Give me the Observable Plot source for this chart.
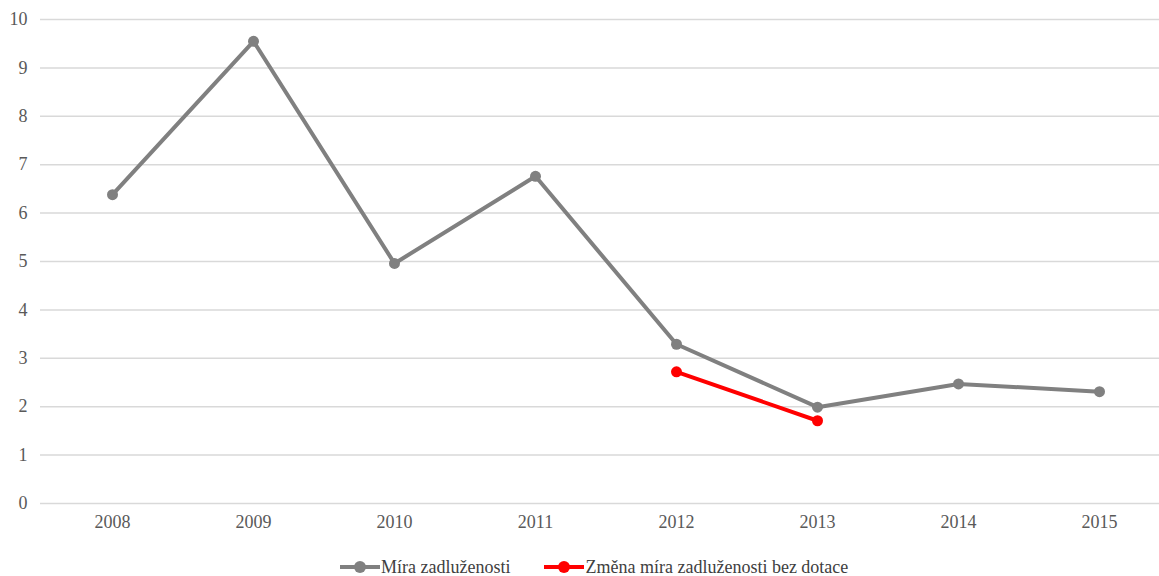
<!DOCTYPE html>
<html>
<head>
<meta charset="utf-8">
<script src="https://cdn.jsdelivr.net/npm/d3@7"></script>
<script src="https://cdn.jsdelivr.net/npm/@observablehq/plot@0.6"></script>
<style>
  html, body { margin: 0; padding: 0; background: #fff; overflow: hidden; }
  #chart svg { display: block; }
  .legend { display: flex; justify-content: flex-start; align-items: center; height: 36px; margin-top: 9px; font-family: "Liberation Serif", serif; font-size: 18px; color: #404040; padding-left: 340px; }
  .item { display: flex; align-items: center; margin-right: 34px; }
  .sym { position: relative; width: 40px; height: 12px; margin-right: 1px; }
  .sym .ln { position: absolute; left: 0; right: 0; top: 4px; height: 4px; }
  .sym .dt { position: absolute; left: 14px; top: 0; width: 12px; height: 12px; border-radius: 6px; }
</style>
</head>
<body>
<div id="chart"></div>
<div class="legend">
  <div class="item"><div class="sym"><div class="ln" style="background:#808080"></div><div class="dt" style="background:#808080"></div></div><span>Míra zadluženosti</span></div>
  <div class="item"><div class="sym"><div class="ln" style="background:#ff0000"></div><div class="dt" style="background:#ff0000"></div></div><span>Změna míra zadluženosti bez dotace</span></div>
</div>
<script>
const years = ["2008", "2009", "2010", "2011", "2012", "2013", "2014", "2015"];
const miraZadluzenosti = [6.38, 9.55, 4.96, 6.76, 3.29, 1.99, 2.47, 2.31];
const zmenaYears = ["2012", "2013"];
const zmenaValues = [2.72, 1.71];
const yTicks = [0, 1, 2, 3, 4, 5, 6, 7, 8, 9, 10];

const mira = years.map((y, i) => ({year: y, value: miraZadluzenosti[i]}));
const zmena = zmenaYears.map((y, i) => ({year: y, value: zmenaValues[i]}));

const chart = Plot.plot({
  width: 1159,
  height: 540,
  marginTop: 19,
  marginBottom: 37,
  marginLeft: 40,
  marginRight: 0,
  style: {fontFamily: "'Liberation Serif', serif", fontSize: "18px", color: "#595959", background: "#fff"},
  x: {type: "point", domain: years, range: [110, 1100], padding: 0, label: null},
  y: {domain: [0, 10], label: null},
  marks: [
    Plot.ruleY(yTicks, {stroke: "#d9d9d9", strokeWidth: 1.5}),
    Plot.axisX({tickSize: 0, tickPadding: 12, fontSize: 18}),
    Plot.axisY({ticks: yTicks, tickSize: 0, tickPadding: 13, fontSize: 18, tickFormat: d => String(d)}),
    Plot.line(mira, {x: "year", y: "value", stroke: "#808080", strokeWidth: 4}),
    Plot.dot(mira, {x: "year", y: "value", fill: "#808080", r: 5.5}),
    Plot.line(zmena, {x: "year", y: "value", stroke: "#ff0000", strokeWidth: 4}),
    Plot.dot(zmena, {x: "year", y: "value", fill: "#ff0000", r: 5.5})
  ]
});
document.getElementById("chart").appendChild(chart);
</script>
</body>
</html>
